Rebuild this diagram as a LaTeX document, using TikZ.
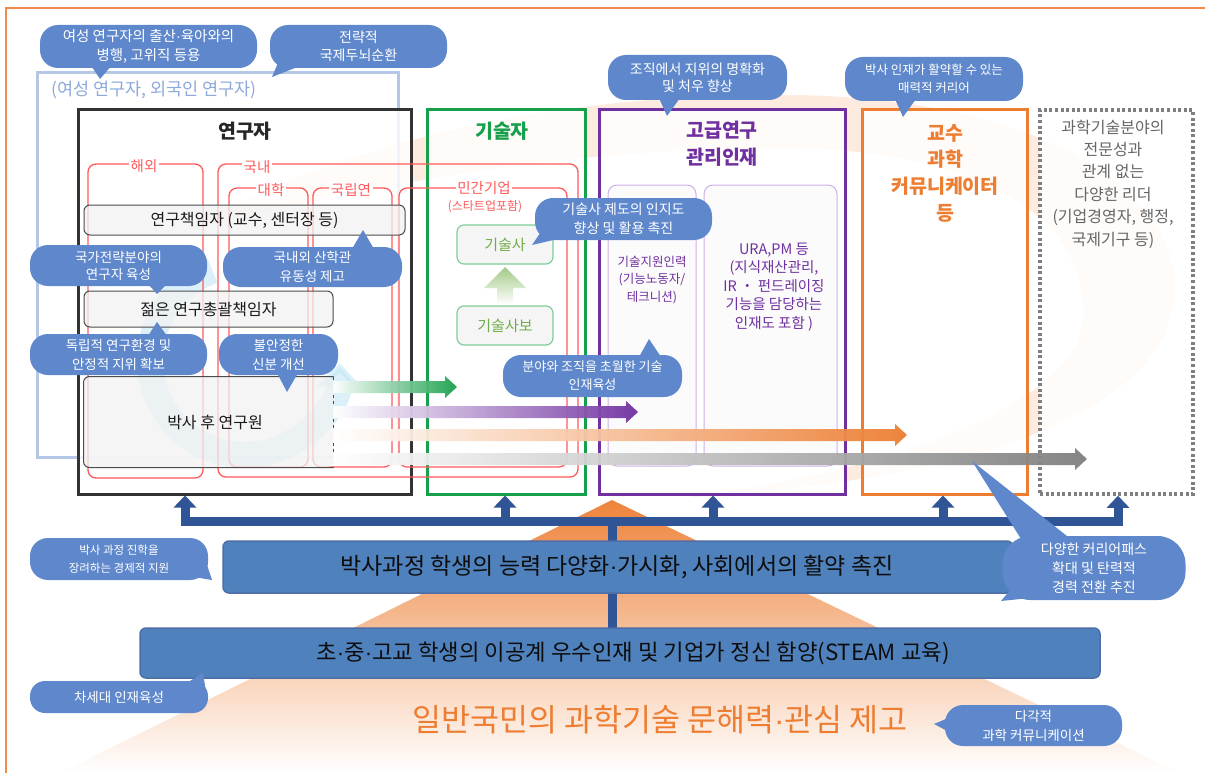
\documentclass[tikz,border=0pt]{standalone}
\usepackage{fontspec}
\setmainfont{Noto Sans CJK KR}
\newfontfamily\latf{Liberation Sans}
\newcommand\md{{\latf ·}}
\usetikzlibrary{arrows.meta,calc}
\definecolor{bubc}{HTML}{5F88CC}
\definecolor{busc}{HTML}{2F5597}
\definecolor{barc}{HTML}{4F81BD}
\definecolor{redc}{HTML}{FF5A5A}
\definecolor{grnc}{HTML}{17A04B}
\definecolor{purc}{HTML}{7030A0}
\definecolor{orac}{HTML}{ED7D31}
\definecolor{gryc}{HTML}{7F7F7F}
\definecolor{lblc}{HTML}{B4C7E7}
\definecolor{lbtxt}{HTML}{8EA9DB}
\definecolor{lgrn}{HTML}{7FCF9A}
\definecolor{tgrn}{HTML}{70AD47}
\definecolor{lpur}{HTML}{CDB0E8}
\definecolor{peach}{HTML}{FBE3D0}
\definecolor{skyc}{HTML}{BFE4F4}
\definecolor{framec}{HTML}{F4894B}
\newcommand\fsz[2]{\fontsize{#1}{#2}\selectfont}
\newcommand\fatarr[4]{\shade[left color=white, right color=#4, fill opacity=0.95]
  (#2,#1-6) -- (#3-12,#1-6) -- (#3-12,#1-11) -- (#3,#1) -- (#3-12,#1+11) -- (#3-12,#1+6) -- (#2,#1+6) -- cycle;}
\tikzset{
  bub/.style={fill=bubc, text=white, align=center, inner sep=0pt, rounded corners=18pt},
  colbox/.style={line width=3pt, fill=white, fill opacity=0.8, inner sep=0pt},
  redb/.style={draw=redc, line width=1.3pt, rounded corners=8pt},
  redlab/.style={text=redc, fill=white, inner sep=2pt, font=\fsz{14.5}{17}},
  gbox/.style={draw=black!70, line width=1pt, fill=black!5, fill opacity=0.75, text opacity=1, rounded corners=6pt, inner sep=0pt, font=\fsz{16}{19}, text=black!90},
  tbox/.style={draw=lgrn, line width=1.2pt, fill=black!4, rounded corners=7pt, text=tgrn, font=\fsz{15}{18}, inner sep=0pt},
  pbox/.style={draw=lpur, line width=1pt, fill=black!2, fill opacity=0.8, rounded corners=9pt, inner sep=0pt},
  ptext/.style={text=purc, align=center, inner sep=0pt},
  bus/.style={draw=busc, line width=9pt},
  bigbar/.style={fill=barc, draw=busc!85, line width=1.5pt, rounded corners=6pt, inner sep=0pt},
  bartext/.style={font=\fsz{23}{27}, text=black!95, inner sep=0pt},
  ttl/.style={font=\fsz{19.5}{27}\bfseries, align=center, inner sep=0pt}
}
\begin{document}
\begin{tikzpicture}[x=1pt,y=-1pt]
\useasboundingbox (0,0) rectangle (1205,773);
\fill[white] (0,0) rectangle (1205,773);
% outer frame
\draw[framec, line width=2.5pt] (6,773) -- (6,8) -- (1205,8);
% beige swirl
\fill[peach, opacity=0.7] (180,232) .. controls (350,140) and (550,95) .. (780,95)
  .. controls (1050,95) and (1195,200) .. (1172,310) .. controls (1150,420) and (950,482) .. (690,497)
  .. controls (900,470) and (1088,400) .. (1084,310) .. controls (1080,200) and (950,148) .. (780,148)
  .. controls (550,148) and (350,190) .. (180,232) -- cycle;
% mountain
\shade[top color=orac!95, middle color=orac!42, bottom color=white] (612,500) -- (1180,773) -- (60,773) -- cycle;
% light blue frame
\draw[lblc, line width=3pt] (37,73) rectangle (398,457);
\node[text=lbtxt, font=\fsz{17.5}{20}, inner sep=0pt] (fem) at (154,90) {(여성 연구자, 외국인 연구자)};
% column boxes
\node[colbox, draw=black!80, minimum width=333pt, minimum height=384pt] (res) at (244.5,302) {};
\node[colbox, draw=grnc, minimum width=158pt, minimum height=384pt] (tech) at (506,302) {};
\node[colbox, draw=purc, minimum width=246pt, minimum height=384pt] (mgr) at (722,302) {};
\node[colbox, draw=orac, minimum width=165pt, minimum height=384pt] (prof) at (944.5,302) {};
\node[colbox, draw=gryc, dash pattern=on 3pt off 2.6pt, line width=3.5pt, minimum width=153pt, minimum height=384pt] (oth) at (1116.5,302) {};
% light blue circular arrow
\draw[skyc, opacity=0.55, line width=26pt, -{Triangle[width=46pt,length=24pt]}] (245,360) ++(250:95) arc[start angle=250, end angle=2, radius=95];
% titles
\node[ttl, text=black!85] (tres) at (245,131) {연구자};
\node[ttl, text=grnc] (ttech) at (502,131) {기술자};
\node[ttl, text=purc] (tmgr) at (722,143.5) {고급연구\\관리인재};
\node[ttl, text=orac, font=\fsz{19.5}{26.7}\bfseries] (tprof) at (945,173) {교수\\과학\\커뮤니케이터\\등};
\node[text=black!60, font=\fsz{16}{22.4}, align=center, inner sep=0pt] (toth) at (1113,184) {과학기술분야의\\전문성과\\관계 없는\\다양한 리더\\(기업경영자, 행정,\\국제기구 등)};
% red boxes
\draw[redb] (88,164) rectangle (203,478);
\draw[redb] (218,164) rectangle (578,477);
\draw[redb] (229,188) rectangle (308,467);
\draw[redb] (313,188) rectangle (392,467);
\draw[redb] (399,188) rectangle (567,467);
\node[redlab] (lab1) at (144,166) {해외};
\node[redlab] (lab2) at (257,167) {국내};
\node[redlab] (lab3) at (271,190) {대학};
\node[redlab] (lab4) at (351,190) {국립연};
\node[redlab, inner sep=1pt] (lab5) at (484,188) {민간기업};
\node[redlab, font=\fsz{12}{14}, inner sep=1pt] (lab6) at (485,207) {(스타트업포함)};
% gray boxes
\node[gbox, minimum width=321pt, minimum height=30pt] (pi) at (244.5,220) {연구책임자 (교수, 센터장 등)};
\node[gbox, minimum width=249pt, minimum height=36pt] (ypi) at (208.5,309) {젊은 연구총괄책임자};
\node[gbox, draw=none, minimum width=249pt, minimum height=90pt] (phd) at (208.5,422) {};
\draw[black!70, line width=1pt, rounded corners=6pt] (phd.north east) -- (phd.north west) -- (phd.south west) -- (phd.south east);
\draw[black!70, line width=1pt, dashed] (phd.north east) -- (phd.south east);
\node[font=\fsz{16}{19}, text=black!90, inner sep=0pt] (tphd) at (215,422) {박사 후 연구원};
% technician boxes
\node[tbox, minimum width=96pt, minimum height=39pt] (ts) at (505,244.5) {기술사};
\node[tbox, minimum width=96pt, minimum height=39pt] (tsb) at (505,325.5) {기술사보};
\shade[top color=tgrn!65, bottom color=white] (505,267) -- (526,288) -- (513,288) -- (513,304) -- (497,304) -- (497,288) -- (484,288) -- cycle;
% purple inner boxes
\node[pbox, minimum width=88pt, minimum height=281pt] (sup) at (652,325.5) {};
\node[pbox, minimum width=133pt, minimum height=281pt] (ura) at (770.5,325.5) {};
\node[ptext, font=\fsz{12.5}{17.5}] (tsup) at (652,280) {기술지원인력\\(기능노동자/\\테크니션)};
\node[ptext, font=\fsz{14.5}{18.5}] (tura) at (774,287) {URA,PM 등\\(지식재산관리,\\IR ・ 펀드레이징\\기능을 담당하는\\인재도 포함 )};
% gradient arrows
\fatarr{387}{333}{457}{grnc}
\fatarr{412}{333}{638}{purc}
\fatarr{435}{333}{907}{orac}
\fatarr{459}{333}{1087}{gryc}
% bubbles (top area)
\node[bub, font=\fsz{14.5}{19}, minimum width=217pt, minimum height=43pt] (b1) at (148.5,46.5) {여성 연구자의 출산\md 육아와의\\병행, 고위직 등용};
\fill[bubc] (90,64) -- (100,79) -- (113,64) -- cycle;
\node[bub, font=\fsz{14}{18}, minimum width=177pt, minimum height=43pt] (b2) at (358.5,46.5) {전략적\\국제두뇌순환};
\fill[bubc] (280,58) -- (272,77) -- (300,66) -- cycle;
\node[bub, font=\fsz{14}{17.5}, minimum width=179pt, minimum height=45pt] (b3) at (697.5,77.5) {조직에서 지위의 명확화\\및 처우 향상};
\fill[bubc] (659,98) -- (667,116) -- (680,98) -- cycle;
\node[bub, font=\fsz{12.5}{18}, minimum width=178pt, minimum height=44pt] (b4) at (934,79) {박사 인재가 활약할 수 있는\\매력적 커리어};
\fill[bubc] (895,99) -- (903,117) -- (916,99) -- cycle;
\node[bub, font=\fsz{14}{19}, minimum width=177pt, minimum height=42pt] (b5) at (623.5,219) {기술사 제도의 인지도\\향상 및 활용 촉진};
\fill[bubc] (545,226) -- (532,245) -- (562,238) -- cycle;
\node[bub, font=\fsz{13.5}{17}, minimum width=177pt, minimum height=41pt] (b6) at (118.5,265.5) {국가전략분야의\\연구자 육성};
\fill[bubc] (148,284) -- (157,294) -- (167,284) -- cycle;
\node[bub, font=\fsz{13.5}{19}, minimum width=179pt, minimum height=40pt] (b7) at (312.5,267) {국내외 산학관\\유동성 제고};
\fill[bubc] (352,249) -- (363,230) -- (374,249) -- cycle;
\node[bub, font=\fsz{13.5}{19}, minimum width=177pt, minimum height=41pt] (b8) at (118.5,354.5) {독립적 연구환경 및\\안정적 지위 확보};
\fill[bubc] (148,336) -- (157,322) -- (167,336) -- cycle;
\node[bub, font=\fsz{13.5}{19}, minimum width=119pt, minimum height=41pt] (b9) at (278.5,354.5) {불안정한\\신분 개선};
\fill[bubc] (277,373) -- (287,392) -- (298,373) -- cycle;
\node[bub, font=\fsz{13}{18}, minimum width=179pt, minimum height=42pt] (b10) at (592.5,376) {분야와 조직을 초월한 기술\\인재육성};
\fill[bubc] (639,357) -- (649,339) -- (661,357) -- cycle;
% bus
\coordinate (b1c) at (185,521);
\coordinate (b2c) at (505,521);
\coordinate (b3c) at (713,521);
\coordinate (b4c) at (943,521);
\coordinate (b5c) at (1118,521);
\coordinate (bcc) at (612,521);
\coordinate (stmtop) at (612,629);
\draw[bus] (stmtop) -- (bcc);
\draw[bus, {Triangle[width=22pt,length=12pt]}-{Triangle[width=22pt,length=12pt]}] (b1c |- res.south) -- (b1c) -- (b5c) -- (b5c |- oth.south);
\draw[bus, -{Triangle[width=22pt,length=12pt]}] (b2c) -- (b2c |- tech.south);
\draw[bus, -{Triangle[width=22pt,length=12pt]}] (b3c) -- (b3c |- mgr.south);
\draw[bus, -{Triangle[width=22pt,length=12pt]}] (b4c) -- (b4c |- prof.south);
% bars
\node[bigbar, minimum width=790pt, minimum height=52pt] (phdbar) at (618,567) {};
\node[bartext] (tphdbar) at (617,567) {박사과정 학생의 능력 다양화\md 가시화, 사회에서의 활약 촉진};
\node[bigbar, minimum width=960pt, minimum height=50pt] (stm) at (620,653) {};
\node[bartext, font=\fsz{22.3}{26}] (tstm) at (633,653) {초\md 중\md 고교 학생의 이공계 우수인재 및 기업가 정신 함양(STEAM 교육)};
\node[font=\fsz{31.5}{38}, text=orac, inner sep=0pt] (pub) at (660,720) {일반국민의 과학기술 문해력\md 관심 제고};
% bottom bubbles
\node[bub, font=\fsz{11.5}{18}, minimum width=178pt, minimum height=42pt] (b11) at (119,559) {박사 과정 진학을\\장려하는 경제적 지원};
\fill[bubc] (188,576) -- (212,580) -- (204,556) -- cycle;
\node[bub, rounded corners=15pt, font=\fsz{13.5}{16}, minimum width=178pt, minimum height=32pt] (b12) at (119,697) {차세대 인재육성};
\fill[bubc] (185,684) -- (203,673) -- (206,692) -- cycle;
\fill[bubc] (1028,550) -- (972,461) -- (1072,540) -- cycle;
\fill[bubc] (1012,588) -- (1001,601) -- (1030,598) -- cycle;
\node[bub, rounded corners=28pt, font=\fsz{14}{19}, minimum width=183pt, minimum height=64pt] (b13) at (1094,568) {다양한 커리어패스\\확대 및 탄력적\\경력 전환 추진};
\node[bub, font=\fsz{13.5}{19}, minimum width=177pt, minimum height=41pt] (b14) at (1033.5,725.5) {다각적\\과학 커뮤니케이션};
\fill[bubc] (953,716) -- (934,724) -- (953,734) -- cycle;
\end{tikzpicture}
\end{document}
